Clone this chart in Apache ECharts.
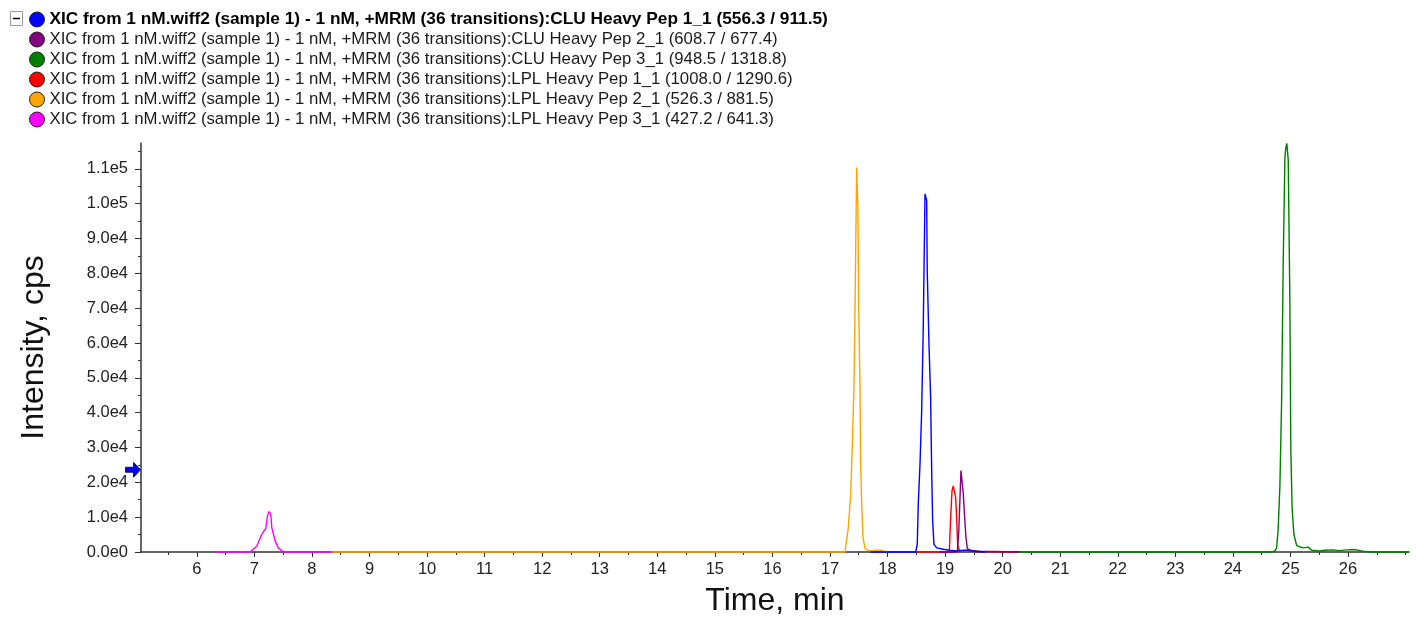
<!DOCTYPE html>
<html>
<head>
<meta charset="utf-8">
<title>XIC from 1 nM.wiff2</title>
<script src="https://cdn.jsdelivr.net/npm/echarts@6/dist/echarts.min.js"></script>
<style>
  html, body { margin: 0; padding: 0; background: #ffffff; }
  #chart { width: 1416px; height: 619px; }
</style>
</head>
<body>
<div id="chart"></div>
<script>
// Extracted ion chromatograms, +MRM (36 transitions), sample 1 - 1 nM
const traceNames = [
  'XIC from 1 nM.wiff2 (sample 1) - 1 nM, +MRM (36 transitions):CLU Heavy Pep 1_1 (556.3 / 911.5)',
  'XIC from 1 nM.wiff2 (sample 1) - 1 nM, +MRM (36 transitions):CLU Heavy Pep 2_1 (608.7 / 677.4)',
  'XIC from 1 nM.wiff2 (sample 1) - 1 nM, +MRM (36 transitions):CLU Heavy Pep 3_1 (948.5 / 1318.8)',
  'XIC from 1 nM.wiff2 (sample 1) - 1 nM, +MRM (36 transitions):LPL Heavy Pep 1_1 (1008.0 / 1290.6)',
  'XIC from 1 nM.wiff2 (sample 1) - 1 nM, +MRM (36 transitions):LPL Heavy Pep 2_1 (526.3 / 881.5)',
  'XIC from 1 nM.wiff2 (sample 1) - 1 nM, +MRM (36 transitions):LPL Heavy Pep 3_1 (427.2 / 641.3)'
];
const traceColors = ['#0000ff', '#800080', '#008000', '#ff0000', '#ffa500', '#ff00ff'];

// Retention time (min) and intensity (cps) for each transition
const cluPep1Time = [17.70, 18.49, 18.517, 18.534, 18.564, 18.593, 18.621, 18.651, 18.665, 18.680, 18.690, 18.720, 18.749, 18.767, 18.784, 18.807, 18.854, 18.97, 19.08, 19.20, 19.43, 19.50, 19.70];
const cluPep1Int  = [0, 0, 2300, 13800, 25200, 40500, 64500, 102800, 103000, 100900, 80700, 59700, 44300, 23300, 8900, 2200, 1200, 800, 500, 300, 600, 200, 0];

const cluPep2Time = [18.90, 19.212, 19.236, 19.259, 19.276, 19.299, 19.317, 19.340, 19.363, 19.386, 19.42, 19.60, 20.30];
const cluPep2Int  = [0, 0, 5100, 15600, 23400, 23400, 16600, 9900, 4100, 1200, 300, 200, 0];

const cluPep3Time = [20.20, 24.68, 24.74, 24.76, 24.787, 24.817, 24.846, 24.875, 24.904, 24.921, 24.938, 24.962, 24.990, 25.007, 25.030, 25.060, 25.107, 25.16, 25.22, 25.31, 25.37, 25.51, 25.60, 25.74, 25.85, 25.97, 26.12, 26.26, 26.40, 27.06];
const cluPep3Int  = [0, 0, 500, 1200, 6500, 19000, 42400, 83600, 113300, 116200, 117300, 112400, 72100, 29000, 12300, 5100, 1900, 1500, 1200, 1400, 500, 300, 500, 600, 400, 600, 700, 200, 0, 0];

const lplPep1Time = [18.50, 19.073, 19.097, 19.120, 19.142, 19.166, 19.184, 19.201, 19.218, 19.247, 19.50, 19.55, 20.25];
const lplPep1Int  = [0, 0, 9900, 17500, 19000, 18500, 15600, 9900, 2200, 500, 400, 100, 0];

const lplPep2Time = [8.35, 17.261, 17.319, 17.360, 17.389, 17.417, 17.435, 17.447, 17.464, 17.485, 17.500, 17.521, 17.533, 17.551, 17.574, 17.609, 17.65, 17.75, 17.81, 17.88, 17.92, 18.00];
const lplPep2Int  = [0, 0, 7000, 16600, 30900, 47200, 69300, 86500, 110400, 98900, 69300, 48300, 25200, 13800, 4100, 1000, 500, 300, 600, 500, 300, 0];

const lplPep3Time = [6.33, 6.925, 7.042, 7.129, 7.198, 7.227, 7.256, 7.285, 7.302, 7.360, 7.418, 7.505, 8.35];
const lplPep3Int  = [0, 0, 1700, 5100, 6800, 10300, 11600, 10800, 7000, 3200, 1100, 0, 0];

// Axis ticks
const timeTicks = [6, 7, 8, 9, 10, 11, 12, 13, 14, 15, 16, 17, 18, 19, 20, 21, 22, 23, 24, 25, 26];
const timeMinorTicks = [5.5, 6.5, 7.5, 8.5, 9.5, 10.5, 11.5, 12.5, 13.5, 14.5, 15.5, 16.5, 17.5, 18.5, 19.5, 20.5, 21.5, 22.5, 23.5, 24.5, 25.5, 26.5, 27];
const intensityTicks = [0, 10000, 20000, 30000, 40000, 50000, 60000, 70000, 80000, 90000, 100000, 110000];
const intensityMinorTicks = [5000, 15000, 25000, 35000, 45000, 55000, 65000, 75000, 85000, 95000, 105000, 115000];
const timeRange = [5.03, 27.06];
const intensityRange = [0, 117400];
// Intensity threshold marker on the y axis
const thresholdLevel = 23600;

const traces = [
  [cluPep1Time, cluPep1Int],
  [cluPep2Time, cluPep2Int],
  [cluPep3Time, cluPep3Int],
  [lplPep1Time, lplPep1Int],
  [lplPep2Time, lplPep2Int],
  [lplPep3Time, lplPep3Int]
];

const FONT = '"Liberation Sans", Arial, sans-serif';
const AXIS_COLOR = '#333333';

function sciLabel(v) {
  if (v === 0) return '0.0e0';
  const e = Math.floor(Math.log10(v) + 1e-9);
  return (v / Math.pow(10, e)).toFixed(1) + 'e' + e;
}

const lineSeries = traces.map(function (t, i) {
  return {
    name: traceNames[i],
    type: 'line',
    xAxisIndex: 0,
    yAxisIndex: 0,
    data: t[0].map(function (x, k) { return [x, t[1][k]]; }),
    showSymbol: false,
    symbol: 'none',
    smooth: false,
    clip: false,
    z: 10 - i,
    lineStyle: { color: traceColors[i], width: 1.4 },
    itemStyle: { color: traceColors[i] }
  };
});

lineSeries.push({
  name: 'threshold',
  type: 'scatter',
  xAxisIndex: 0,
  yAxisIndex: 0,
  data: [[timeRange[0], thresholdLevel]],
  symbol: 'path://M0,5 L8,5 L8,0 L15,7.5 L8,15 L8,10 L0,10 Z',
  symbolSize: [15, 15],
  symbolOffset: [-8, 0],
  clip: false,
  silent: true,
  z: 20,
  itemStyle: { color: '#0000ff', opacity: 1, borderColor: '#00003a', borderWidth: 0.8 }
});

const chart = echarts.init(document.getElementById('chart'), null, { renderer: 'canvas' });

chart.setOption({
  animation: false,
  backgroundColor: '#ffffff',
  textStyle: { fontFamily: FONT },
  grid: { left: 141, right: 7, top: 143, bottom: 67, containLabel: false, outerBoundsMode: 'none' },
  legend: {
    orient: 'vertical',
    left: 29,
    top: 11,
    padding: 0,
    itemWidth: 15,
    itemHeight: 15,
    itemGap: 3,
    icon: 'circle',
    selectedMode: false,
    itemStyle: { borderColor: '#222222', borderWidth: 1 },
    textStyle: { fontFamily: FONT, fontSize: 16.75, color: '#1a1a1a', lineHeight: 16 },
    data: traceNames.map(function (n, i) {
      return i === 0
        ? { name: n, textStyle: { fontWeight: 'bold', fontSize: 17.3, color: '#000000', lineHeight: 16 } }
        : { name: n };
    })
  },
  graphic: [
    { type: 'rect', shape: { x: 10.5, y: 11.5, width: 12, height: 14 }, style: { fill: '#ffffff', stroke: '#9a9a9a', lineWidth: 1 } },
    { type: 'line', shape: { x1: 13, y1: 18.5, x2: 20, y2: 18.5 }, style: { stroke: '#000000', lineWidth: 1.5 } }
  ],
  xAxis: [
    {
      type: 'value',
      min: timeRange[0],
      max: timeRange[1],
      position: 'bottom',
      name: 'Time, min',
      nameLocation: 'middle',
      nameGap: 33,
      nameTextStyle: { fontFamily: FONT, fontSize: 32, color: '#111111' },
      axisLine: { show: true, onZero: false, lineStyle: { color: AXIS_COLOR, width: 1.5 } },
      axisTick: { show: true, customValues: timeTicks, length: 5, lineStyle: { color: AXIS_COLOR, width: 1 } },
      axisLabel: { show: true, customValues: timeTicks, fontFamily: FONT, fontSize: 16.5, color: '#222222', margin: 9 },
      splitLine: { show: false }
    },
    {
      type: 'value',
      min: timeRange[0],
      max: timeRange[1],
      position: 'bottom',
      axisLine: { show: false },
      axisTick: { show: true, customValues: timeMinorTicks, length: 3, lineStyle: { color: AXIS_COLOR, width: 1 } },
      axisLabel: { show: false },
      splitLine: { show: false }
    }
  ],
  yAxis: [
    {
      type: 'value',
      min: intensityRange[0],
      max: intensityRange[1],
      position: 'left',
      name: 'Intensity, cps',
      nameLocation: 'middle',
      nameGap: 91,
      nameTextStyle: { fontFamily: FONT, fontSize: 32, color: '#111111' },
      axisLine: { show: true, onZero: false, lineStyle: { color: AXIS_COLOR, width: 1.5 } },
      axisTick: { show: true, customValues: intensityTicks, length: 6, lineStyle: { color: AXIS_COLOR, width: 1 } },
      axisLabel: { show: true, customValues: intensityTicks, formatter: sciLabel, fontFamily: FONT, fontSize: 16.5, color: '#222222', margin: 13 },
      splitLine: { show: false }
    },
    {
      type: 'value',
      min: intensityRange[0],
      max: intensityRange[1],
      position: 'left',
      offset: 0,
      axisLine: { show: false },
      axisTick: { show: true, customValues: intensityMinorTicks, length: 3, lineStyle: { color: AXIS_COLOR, width: 1 } },
      axisLabel: { show: false },
      splitLine: { show: false }
    }
  ],
  series: lineSeries
});
</script>
</body>
</html>
